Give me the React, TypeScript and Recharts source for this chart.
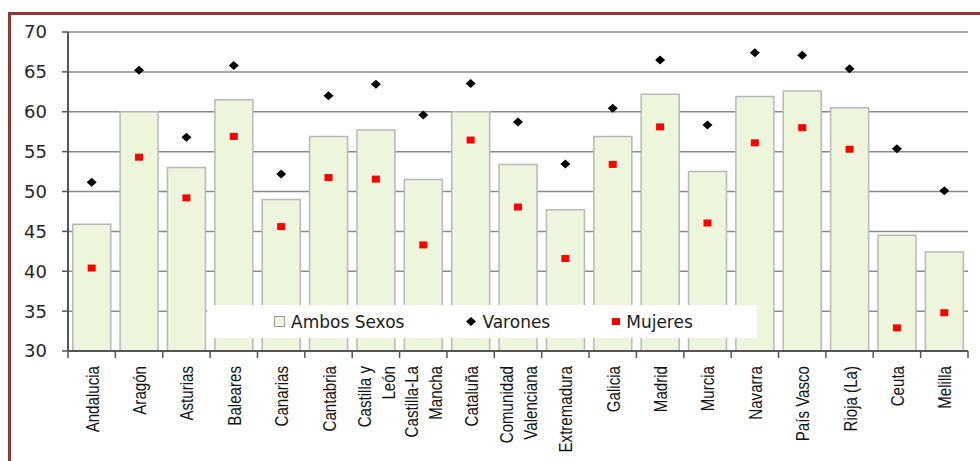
import React from "react";
import {
  Bar,
  CartesianGrid,
  ComposedChart,
  Legend,
  Scatter,
  XAxis,
  YAxis,
} from "recharts";

const regions = [
  "Andalucia",
  "Aragón",
  "Asturias",
  "Baleares",
  "Canarias",
  "Cantabria",
  "Castilla y\nLeón",
  "Castilla-La\nMancha",
  "Cataluña",
  "Comunidad\nValenciana",
  "Extremadura",
  "Galicia",
  "Madrid",
  "Murcia",
  "Navarra",
  "País Vasco",
  "Rioja (La)",
  "Ceuta",
  "Melilla",
];

const ambosSexos = [45.9, 60.0, 53.0, 61.5, 49.0, 56.9, 57.7, 51.5, 60.0, 53.4, 47.7, 56.9, 62.2, 52.5, 61.9, 62.6, 60.5, 44.5, 42.4];
const varones = [51.15, 65.2, 56.8, 65.8, 52.2, 62.0, 63.45, 59.6, 63.55, 58.7, 53.45, 60.45, 66.5, 58.35, 67.4, 67.1, 65.4, 55.35, 50.1];
const mujeres = [40.4, 54.3, 49.2, 56.9, 45.6, 51.75, 51.55, 43.3, 56.45, 48.05, 41.6, 53.4, 58.1, 46.05, 56.1, 58.0, 55.3, 32.9, 34.8];

const yTicks = [30, 35, 40, 45, 50, 55, 60, 65, 70];
const legendOrder = ["ambos", "varones", "mujeres"];

const data = regions.map((region, i) => ({
  region,
  ambos: ambosSexos[i],
  varones: varones[i],
  mujeres: mujeres[i],
}));

const BAR_FILL = "#EDF5DC";
const BAR_STROKE = "#B8B8B8";
const AXIS = "#555555";

const Diamond = (props: any) => {
  const { cx, cy } = props;
  if (cx == null || cy == null) return null;
  return (
    <polygon
      points={`${cx},${cy - 4.5} ${cx + 5},${cy} ${cx},${cy + 4.5} ${cx - 5},${cy}`}
      fill="#000"
    />
  );
};

const RedSquare = (props: any) => {
  const { cx, cy } = props;
  if (cx == null || cy == null) return null;
  return <rect x={cx - 4} y={cy - 3.5} width={8} height={7} fill="#FF0000" />;
};

// labels rotated (narrowed like Arial Narrow), tick marks at the category boundaries
const RegionTick = (props: any) => {
  const { x, y, payload, index } = props;
  const lines = String(payload.value).split("\n");
  const half = payload.offset ?? 0;
  return (
    <g>
      {half > 0 && (
        <line x1={x + half} y1={y - 15} x2={x + half} y2={y - 8} stroke={AXIS} strokeWidth={1.5} />
      )}
      {half > 0 && index === 0 && (
        <line x1={x - half} y1={y - 15} x2={x - half} y2={y - 8} stroke={AXIS} strokeWidth={1.5} />
      )}
      <g transform={`translate(${x},${y})`}>
        {lines.map((ln, i) => (
          <text
            key={i}
            transform="rotate(-90) scale(0.84,1)"
            x={0}
            y={(i - (lines.length - 1) / 2) * 24 + 7}
            textAnchor="end"
            fontFamily="'Liberation Sans', Arial, sans-serif"
            fontSize={18}
            fill="#111"
          >
            {ln}
          </text>
        ))}
      </g>
    </g>
  );
};

const LegendIcon = ({ k }: { k: string }) => {
  if (k === "ambos")
    return (
      <svg width={11} height={11}>
        <rect x={0.5} y={0.5} width={10} height={10} fill={BAR_FILL} stroke="#9a9a9a" />
      </svg>
    );
  if (k === "varones")
    return (
      <svg width={10} height={9}>
        <polygon points="5,0 10,4.5 5,9 0,4.5" fill="#000" />
      </svg>
    );
  return (
    <svg width={8} height={7}>
      <rect width={8} height={7} fill="#FF0000" />
    </svg>
  );
};

const LegendBox = ({ payload }: any) => {
  const items = [...(payload || [])].sort(
    (a: any, b: any) => legendOrder.indexOf(a.dataKey) - legendOrder.indexOf(b.dataKey)
  );
  return (
    <div
      style={{
        display: "flex",
        alignItems: "center",
        height: 33,
        paddingLeft: 67,
        gap: 62,
        fontFamily: "'DejaVu Sans', sans-serif",
        fontSize: 17,
        color: "#1a1a1a",
      }}
    >
      {items.map((entry: any) => (
        <div key={entry.dataKey} style={{ display: "flex", alignItems: "center", gap: 6 }}>
          <LegendIcon k={entry.dataKey} />
          <span>{entry.value}</span>
        </div>
      ))}
    </div>
  );
};

export default function App() {
  return (
    <>
      <div
        style={{
          position: "absolute",
          left: 8,
          top: 12,
          width: 972,
          height: 449,
          boxSizing: "border-box",
          borderTop: "3px solid #943634",
          borderLeft: "3px solid #943634",
        }}
      />
      <div style={{ position: "absolute", left: 0, top: 0, width: 980, height: 461 }}>
        <ComposedChart
          width={980}
          height={461}
          data={data}
          margin={{ top: 32, right: 12, bottom: 10, left: 8 }}
          barCategoryGap="10%"
        >
          <CartesianGrid vertical={false} stroke="#8a8a8a" strokeWidth={1.5} />
          <XAxis
            dataKey="region"
            interval={0}
            height={100}
            tickSize={6}
            tickMargin={9}
            tickLine={false}
            axisLine={{ stroke: AXIS, strokeWidth: 2 }}
            tick={<RegionTick />}
          />
          <YAxis
            domain={[30, 70]}
            ticks={yTicks}
            width={60}
            tickSize={6}
            tickMargin={15}
            tickLine={{ stroke: AXIS, strokeWidth: 1.5 }}
            axisLine={{ stroke: AXIS, strokeWidth: 2 }}
            tick={{ fontFamily: "'DejaVu Sans', sans-serif", fontSize: 18, fill: "#262626" }}
          />
          <Legend
            layout="horizontal"
            verticalAlign="middle"
            align="center"
            content={<LegendBox />}
            wrapperStyle={{ left: 207, top: 305, width: 550, height: 33, background: "#fff" }}
          />
          <Bar
            dataKey="ambos"
            name="Ambos Sexos"
            fill={BAR_FILL}
            stroke={BAR_STROKE}
            strokeWidth={1.5}
            isAnimationActive={false}
          />
          <Scatter dataKey="varones" name="Varones" shape={Diamond} fill="#000" isAnimationActive={false} />
          <Scatter dataKey="mujeres" name="Mujeres" shape={RedSquare} fill="#FF0000" isAnimationActive={false} />
        </ComposedChart>
      </div>
    </>
  );
}
